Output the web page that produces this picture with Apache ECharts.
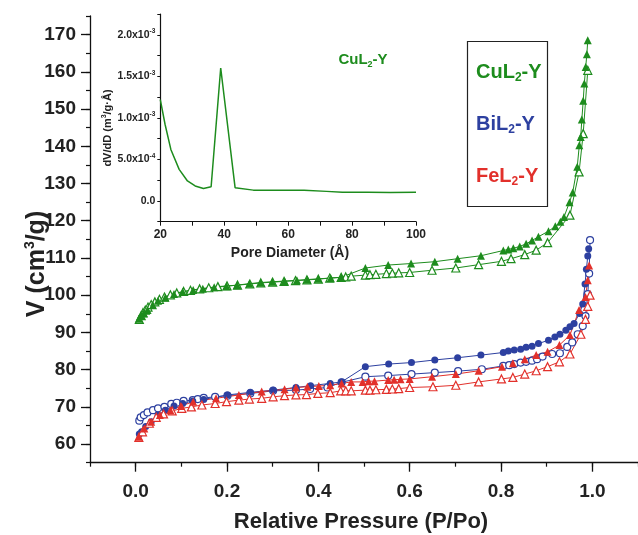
<!DOCTYPE html>
<html><head><meta charset="utf-8">
<script src="https://cdn.jsdelivr.net/npm/echarts@6/dist/echarts.min.js"></script>
<style>html,body{margin:0;padding:0;background:#fff}#c{width:638px;height:535px}</style>
</head><body><div id="c"></div>
<script>
// ---- Main isotherm data (P/Po, V cm3/g) ----
const cuAdsP = [0.008,0.012,0.016,0.021,0.027,0.034,0.042,0.052,0.063,0.076,0.09,0.105,0.12,0.14,0.16,0.18,0.2,0.223,0.25,0.274,0.3,0.325,0.35,0.375,0.4,0.425,0.45,0.46,0.472,0.503,0.513,0.526,0.549,0.562,0.576,0.6,0.649,0.701,0.751,0.801,0.822,0.852,0.877,0.902,0.951,0.971,0.980,0.990];
const cuAdsV = [93.5,94.5,95.3,96.0,96.8,97.5,98.2,98.9,99.5,100.1,100.6,101.0,101.3,101.7,102.0,102.3,102.5,102.7,103.0,103.3,103.5,103.7,103.9,104.1,104.3,104.6,104.8,104.9,105.1,105.4,105.5,105.6,105.8,105.9,106.0,106.1,106.7,107.3,108.2,109.1,109.8,110.9,112.1,114.1,121.5,133.1,143.4,160.4];
const cuDesP = [0.99,0.988,0.9855,0.9825,0.98,0.977,0.9745,0.9715,0.967,0.957,0.950,0.938,0.930,0.919,0.904,0.882,0.868,0.855,0.841,0.827,0.816,0.805,0.756,0.705,0.655,0.603,0.553,0.503,0.45,0.427,0.40,0.376,0.353,0.326,0.299,0.274,0.249,0.222,0.199,0.172,0.147,0.126,0.103,0.084,0.065,0.049,0.038,0.026,0.018,0.012,0.007];
const cuDesV = [168.5,164.7,161.3,156.9,152.2,147.2,142.5,140.3,134.5,127.6,125.0,121.0,119.7,118.5,117.2,115.7,114.7,113.8,113.1,112.6,112.3,112.0,110.6,109.8,109.0,108.5,108.1,107.3,104.8,104.6,104.4,104.2,104.0,103.8,103.6,103.4,103.1,102.7,102.4,102.1,101.7,101.4,100.9,100.3,99.4,98.5,97.3,96.0,95.1,94.4,93.7];

const biAdsP = [0.008,0.011,0.018,0.026,0.038,0.049,0.063,0.078,0.090,0.105,0.125,0.136,0.149,0.174,0.201,0.251,0.301,0.351,0.382,0.420,0.451,0.503,0.553,0.604,0.655,0.706,0.758,0.805,0.818,0.829,0.843,0.855,0.868,0.879,0.891,0.912,0.929,0.945,0.956,0.968,0.979,0.985,0.990,0.993,0.995];
const biAdsV = [66.3,67.2,67.8,68.5,69.1,69.6,70.0,70.8,71.1,71.6,71.8,72.1,72.4,72.7,73.0,73.6,74.3,74.5,74.8,75.2,76.6,78.1,78.4,78.8,79.2,79.6,80.1,81.0,81.2,81.5,81.9,82.1,82.4,82.8,83.5,84.2,84.4,86.1,87.3,89.5,91.7,94.4,100.3,105.8,114.8];
const biDesP = [0.992,0.99,0.987,0.984,0.979,0.972,0.960,0.951,0.942,0.929,0.918,0.904,0.882,0.868,0.855,0.843,0.829,0.816,0.805,0.756,0.705,0.655,0.604,0.554,0.503,0.451,0.426,0.383,0.351,0.301,0.251,0.201,0.149,0.125,0.103,0.084,0.065,0.049,0.034,0.022,0.013,0.008];
const biDesV = [112.5,110.5,107,103,97.6,95.1,92.4,91.5,90.6,89.5,88.8,87.9,87.0,86.3,86.0,85.5,85.3,85.0,84.6,83.9,83.2,82.6,81.9,81.5,80.8,76.7,76.3,75.7,75.2,74.5,73.9,73.2,72.0,71.6,70.9,70.2,69.1,67.8,66.0,64.7,63.3,62.7];

const feAdsP = [0.007,0.015,0.030,0.045,0.061,0.080,0.101,0.122,0.145,0.174,0.199,0.226,0.249,0.276,0.301,0.326,0.351,0.374,0.399,0.426,0.449,0.460,0.472,0.503,0.513,0.526,0.549,0.562,0.576,0.600,0.651,0.701,0.751,0.801,0.826,0.852,0.877,0.902,0.928,0.951,0.975,0.985,0.990,0.995];
const feAdsV = [61.8,63.3,65.6,67.2,68.1,68.9,69.6,70.0,70.5,70.9,71.4,71.8,72.1,72.3,72.7,73.0,73.2,73.3,73.6,73.8,74.3,74.3,74.3,74.5,74.5,74.6,74.7,74.8,74.9,75.2,75.4,75.8,76.7,77.5,77.9,78.8,79.7,80.8,82.1,84.2,89.5,93.5,97,100];
const feDesP = [0.993,0.99,0.985,0.971,0.951,0.928,0.902,0.877,0.852,0.826,0.802,0.751,0.701,0.649,0.600,0.580,0.566,0.553,0.523,0.510,0.497,0.472,0.451,0.426,0.401,0.376,0.351,0.326,0.276,0.226,0.176,0.126,0.099,0.076,0.053,0.034,0.019,0.007];
const feDesV = [108,104,99.5,96.0,89.3,86.6,84.8,83.9,82.8,81.7,80.8,79.7,78.8,78.1,77.5,77.4,77.3,77.2,76.9,76.9,76.7,76.7,76.3,75.8,75.6,75.4,75.2,74.7,74.1,73.2,72.3,71.4,70.2,69.1,67.8,66.0,64.2,62.0];

// ---- Inset pore size distribution ----
const poreD = [20,21.5,23.3,25.9,28.5,30.9,33.5,35.9,38.9,43.4,49.1,57,65,72,77,85,92,100];
const poreDV = [1.22e-3,0.92e-3,0.62e-3,0.38e-3,0.24e-3,0.18e-3,0.15e-3,0.17e-3,1.6e-3,0.16e-3,0.13e-3,0.13e-3,0.128e-3,0.115e-3,0.105e-3,0.103e-3,0.1e-3,0.105e-3];

// ---- Tick labels ----
const xMajor = [0,0.2,0.4,0.6,0.8,1.0];
const yMajor = [60,70,80,90,100,110,120,130,140,150,160,170];
const insetXMajor = [20,40,60,80,100];
const insetYMajor = [0,0.0005,0.001,0.0015,0.002];
const insetYMant = ['0.0','5.0x10','1.0x10','1.5x10','2.0x10'];
const insetYExp = ['','-4','-3','-3','-3'];

const GREEN = '#1d8c1d', BLUE = '#2d40a0', RED = '#e2302b';
const FONT = '"Liberation Sans", Arial, Helvetica, sans-serif';

function pairs(p, v){ return p.map((x,i)=>[x, v[i]]); }
function ser(name, p, v, color, symbol, filled, size){
  return {
    name, type:'line', xAxisIndex:0, yAxisIndex:0, data: pairs(p,v),
    symbol, symbolSize: size, showSymbol:true,
    lineStyle:{color, width:1},
    itemStyle:{color: filled ? color : '#ffffff', borderColor: color, borderWidth: filled ? 0 : 1.2},
    emphasis:{disabled:true}, animation:false, z:3
  };
}

const chart = echarts.init(document.getElementById('c'), null, {renderer:'canvas'});

const option = {
  animation:false,
  backgroundColor:'#fff',
  textStyle:{fontFamily:FONT},
  grid:[
    {left:90, right:0, top:16, bottom:72.3},
    {left:160.3, top:14, width:255.7, height:207.7}
  ],
  xAxis:[
    {type:'value', gridIndex:0, min:-0.1, max:1.1, position:'bottom',
     axisLine:{show:true, onZero:false, lineStyle:{color:'#111', width:1.3}},
     axisTick:{show:true, inside:false, length:9, lineStyle:{color:'#111', width:1.3}, customValues:xMajor},
     axisLabel:{show:true, customValues:xMajor, margin:20, fontSize:19, fontWeight:'bold', color:'#222', fontFamily:FONT,
       formatter:v=>v.toFixed(1)},
     splitLine:{show:false}},
    {type:'value', gridIndex:0, min:-0.1, max:1.1, interval:0.1, position:'bottom',
     axisLine:{show:false, onZero:false},
     axisTick:{show:true, length:4, lineStyle:{color:'#111', width:1.2}},
     axisLabel:{show:false}, splitLine:{show:false}},
    {type:'value', gridIndex:1, min:20, max:100, interval:10, position:'bottom',
     axisLine:{show:true, onZero:false, lineStyle:{color:'#111', width:1.2}},
     axisTick:{show:true, length:4, lineStyle:{color:'#111', width:1}},
     axisLabel:{show:true, customValues:insetXMajor, margin:7, fontSize:12, fontWeight:'bold', color:'#222', fontFamily:FONT},
     splitLine:{show:false}}
  ],
  yAxis:[
    {type:'value', gridIndex:0, min:55, max:175, position:'left',
     axisLine:{show:true, onZero:false, lineStyle:{color:'#111', width:1.3}},
     axisTick:{show:true, length:9, lineStyle:{color:'#111', width:1.3}, customValues:yMajor},
     axisLabel:{show:true, customValues:yMajor, margin:14, fontSize:19, fontWeight:'bold', color:'#222', fontFamily:FONT},
     splitLine:{show:false}},
    {type:'value', gridIndex:0, min:55, max:175, interval:5, position:'left',
     axisLine:{show:false, onZero:false},
     axisTick:{show:true, length:4, lineStyle:{color:'#111', width:1.2}},
     axisLabel:{show:false}, splitLine:{show:false}},
    {type:'value', gridIndex:1, min:-0.00025, max:0.00225, interval:0.00025, position:'left',
     axisLine:{show:true, onZero:false, lineStyle:{color:'#111', width:1.2}},
     axisTick:{show:true, length:3, lineStyle:{color:'#111', width:1}},
     axisLabel:{show:true, customValues:insetYMajor, margin:5, color:'#222', fontFamily:FONT,
       formatter:function(v){
         let idx=0, best=1;
         insetYMajor.forEach((m,i)=>{ if(Math.abs(m-v)<best){best=Math.abs(m-v); idx=i;} });
         return insetYExp[idx] ? '{m|'+insetYMant[idx]+'}{e|'+insetYExp[idx]+'}' : '{m|'+insetYMant[idx]+'}';
       },
       rich:{ m:{fontSize:10.5, fontWeight:'bold', color:'#222', lineHeight:14, fontFamily:FONT},
              e:{fontSize:6.5, fontWeight:'bold', color:'#222', lineHeight:7, verticalAlign:'top', fontFamily:FONT} }},
     splitLine:{show:false}}
  ],
  series:[
    ser('CuL2-Y ads', cuAdsP, cuAdsV, GREEN, 'triangle', false, 8),
    ser('CuL2-Y des', cuDesP, cuDesV, GREEN, 'triangle', true, 8),
    ser('BiL2-Y ads', biAdsP, biAdsV, BLUE, 'circle', false, 7),
    ser('BiL2-Y des', biDesP, biDesV, BLUE, 'circle', true, 7),
    ser('FeL2-Y ads', feAdsP, feAdsV, RED, 'triangle', false, 8),
    ser('FeL2-Y des', feDesP, feDesV, RED, 'triangle', true, 8),
    {name:'PSD', type:'line', xAxisIndex:2, yAxisIndex:2, data:pairs(poreD, poreDV), showSymbol:false, symbol:'none',
     lineStyle:{color:GREEN, width:1.5}, animation:false, z:3}
  ],
  graphic:[
    {type:'text', x:361, y:522, style:{text:'Relative Pressure (P/Po)', align:'center', verticalAlign:'middle', font:'bold 22px '+FONT, fill:'#222'}},
    {type:'text', x:37, y:264, rotation:Math.PI/2, style:{text:'{a|V (cm}{s|3}{a|/g)}', align:'center', verticalAlign:'middle',
      rich:{a:{fontSize:25, fontWeight:'bold', fill:'#222', lineHeight:28, fontFamily:FONT}, s:{fontSize:14, fontWeight:'bold', fill:'#222', lineHeight:14, verticalAlign:'top', fontFamily:FONT}}}},
    {type:'text', x:290, y:253, style:{text:'Pore Diameter (Å)', align:'center', verticalAlign:'middle', font:'bold 14px '+FONT, fill:'#222'}},
    {type:'text', x:108, y:128, rotation:Math.PI/2, style:{text:'{a|dV/dD (m}{s|3}{a|/g·Å)}', align:'center', verticalAlign:'middle',
      rich:{a:{fontSize:11, fontWeight:'bold', fill:'#222', lineHeight:14, fontFamily:FONT}, s:{fontSize:7, fontWeight:'bold', fill:'#222', lineHeight:7, verticalAlign:'top', fontFamily:FONT}}}},
    {type:'text', x:363, y:60, style:{text:'{a|CuL}{s|2}{a|-Y}', align:'center', verticalAlign:'middle',
      rich:{a:{fontSize:15, fontWeight:'bold', fill:GREEN, lineHeight:18, fontFamily:FONT}, s:{fontSize:9, fontWeight:'bold', fill:GREEN, lineHeight:9, verticalAlign:'bottom', fontFamily:FONT}}}},
    {type:'rect', shape:{x:467.5, y:41.5, width:80, height:165}, style:{fill:'#fff', stroke:'#222', lineWidth:1.2}, z:10},
    {type:'text', x:476, y:72, z:11, style:{text:'{a|CuL}{s|2}{a|-Y}', verticalAlign:'middle',
      rich:{a:{fontSize:20, fontWeight:'bold', fill:GREEN, lineHeight:24, fontFamily:FONT}, s:{fontSize:12, fontWeight:'bold', fill:GREEN, lineHeight:12, verticalAlign:'bottom', fontFamily:FONT}}}},
    {type:'text', x:476, y:124, z:11, style:{text:'{a|BiL}{s|2}{a|-Y}', verticalAlign:'middle',
      rich:{a:{fontSize:20, fontWeight:'bold', fill:BLUE, lineHeight:24, fontFamily:FONT}, s:{fontSize:12, fontWeight:'bold', fill:BLUE, lineHeight:12, verticalAlign:'bottom', fontFamily:FONT}}}},
    {type:'text', x:476, y:176, z:11, style:{text:'{a|FeL}{s|2}{a|-Y}', verticalAlign:'middle',
      rich:{a:{fontSize:20, fontWeight:'bold', fill:RED, lineHeight:24, fontFamily:FONT}, s:{fontSize:12, fontWeight:'bold', fill:RED, lineHeight:12, verticalAlign:'bottom', fontFamily:FONT}}}}
  ]
};
chart.setOption(option);
</script></body></html>
